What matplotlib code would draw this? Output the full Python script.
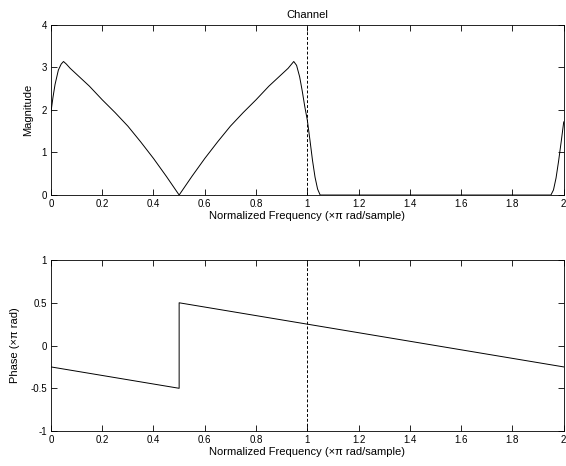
import matplotlib
matplotlib.use("Agg")
from matplotlib import pyplot as plt

# magnitude curve
mag_x = [0, 0.008, 0.016, 0.029, 0.04, 0.049, 0.06, 0.075, 0.1, 0.15, 0.2, 0.25, 0.3, 0.35, 0.4, 0.45, 0.5,
         0.55, 0.6, 0.65, 0.7, 0.75, 0.8, 0.85, 0.9, 0.925, 0.947, 0.958, 0.97, 0.98, 0.99, 1.0,
         1.01, 1.02, 1.03, 1.04, 1.05, 1.95, 1.96, 1.97, 1.98, 1.99, 2.0]
mag_y = [1.95, 2.3, 2.6, 2.94, 3.08, 3.14, 3.08, 2.98, 2.84, 2.56, 2.24, 1.94, 1.62, 1.25, 0.86, 0.44, 0.0,
         0.44, 0.86, 1.25, 1.62, 1.94, 2.24, 2.56, 2.84, 2.98, 3.14, 3.05, 2.78, 2.45, 2.08, 1.76,
         1.3, 0.82, 0.42, 0.14, 0.0, 0.0, 0.12, 0.4, 0.8, 1.25, 1.72]

# phase curve
ph_x = [0, 0.5, 0.5, 2.0]
ph_y = [-0.25, -0.5, 0.5, -0.25]

xticks = [0, 0.2, 0.4, 0.6, 0.8, 1, 1.2, 1.4, 1.6, 1.8, 2]
xlabels = ["0", "0.2", "0.4", "0.6", "0.8", "1", "1.2", "1.4", "1.6", "1.8", "2"]

plt.rcParams['font.family'] = ['Liberation Sans', 'DejaVu Sans']
plt.rcParams['font.size'] = 7

fig = plt.figure(figsize=(5.66, 4.66), dpi=100)
ax1 = fig.add_axes([0.090, 0.5815, 0.906, 0.365])
ax2 = fig.add_axes([0.090, 0.075, 0.906, 0.367])

def style(ax):
    ax.set_xlim(0, 2)
    ax.set_xticks(xticks)
    ax.set_xticklabels(xlabels)
    ax.tick_params(direction="in", top=True, right=True, length=4, width=0.6, labelsize=7, pad=3)
    for s in ax.spines.values():
        s.set_linewidth(0.6)
    ax.set_xlabel("Normalized Frequency (\u00d7\u03c0 rad/sample)", fontsize=8, labelpad=1)
    ax.axvline(1, color="black", linestyle=(0, (3, 2)), linewidth=0.7)

ax1.plot(mag_x, mag_y, color="black", linewidth=0.7)
ax1.set_ylim(0, 4)
ax1.set_yticks([0, 1, 2, 3, 4])
ax1.set_ylabel("Magnitude", fontsize=8, labelpad=6)
ax1.set_title("Channel", fontsize=8, pad=5)
style(ax1)

ax2.plot(ph_x, ph_y, color="black", linewidth=0.7)
ax2.set_ylim(-1, 1)
ax2.set_yticks([-1, -0.5, 0, 0.5, 1])
ax2.set_yticklabels(["-1", "-0.5", "0", "0.5", "1"])
ax2.set_ylabel("Phase (\u00d7\u03c0 rad)", fontsize=8, labelpad=7)
style(ax2)

plt.savefig("out.png", dpi=100)
